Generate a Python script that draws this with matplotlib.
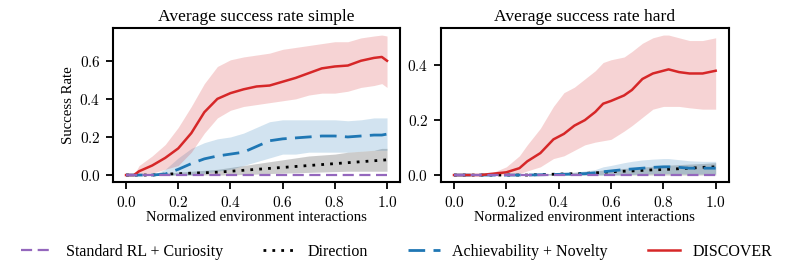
import matplotlib
matplotlib.use("Agg")
import matplotlib.pyplot as plt
import numpy as np

plt.rcParams['font.family'] = ['Liberation Serif', 'DejaVu Serif']
plt.rcParams['mathtext.fontset'] = 'cm'

# ---------------- data ----------------
labels = ["Standard RL + Curiosity", "Direction", "Achievability + Novelty", "DISCOVER"]
colors = ["#9467bd", "black", "#1f77b4", "#d62728"]
titles = ["Average success rate simple", "Average success rate hard"]
x_ticks = [0.0, 0.2, 0.4, 0.6, 0.8, 1.0]
x_ticklabels = ["0.0", "0.2", "0.4", "0.6", "0.8", "1.0"]
y_ticks_simple = [0.0, 0.2, 0.4, 0.6]
y_ticklabels_simple = ["0.0", "0.2", "0.4", "0.6"]
y_ticks_hard = [0.0, 0.2, 0.4]
y_ticklabels_hard = ["0.0", "0.2", "0.4"]

# Simple task
s_x = [0.0, 0.03, 0.05, 0.1, 0.15, 0.2, 0.25, 0.3, 0.35, 0.4, 0.45, 0.5, 0.55, 0.6,
       0.65, 0.7, 0.75, 0.8, 0.85, 0.9, 0.95, 0.98, 1.0]
s_discover = [0.0, 0.0, 0.02, 0.05, 0.09, 0.14, 0.22, 0.33, 0.40, 0.43, 0.45, 0.465, 0.47, 0.49,
              0.51, 0.535, 0.56, 0.57, 0.575, 0.60, 0.615, 0.62, 0.60]
s_discover_lo = [0.0, 0.0, 0.0, 0.01, 0.03, 0.05, 0.12, 0.22, 0.30, 0.34, 0.36, 0.37, 0.38, 0.39,
                 0.40, 0.42, 0.43, 0.43, 0.44, 0.46, 0.47, 0.48, 0.46]
s_discover_hi = [0.0, 0.0, 0.05, 0.10, 0.16, 0.25, 0.36, 0.48, 0.57, 0.605, 0.62, 0.63, 0.64, 0.66,
                 0.67, 0.68, 0.69, 0.70, 0.70, 0.72, 0.73, 0.735, 0.73]

s_achv = [0.0, 0.0, 0.0, 0.0, 0.005, 0.03, 0.06, 0.085, 0.10, 0.11, 0.12, 0.15, 0.18, 0.19,
          0.195, 0.20, 0.205, 0.205, 0.20, 0.205, 0.21, 0.21, 0.215]
s_achv_lo = [0.0, 0.0, 0.0, 0.0, 0.0, 0.0, 0.0, 0.01, 0.02, 0.03, 0.05, 0.07, 0.09, 0.11,
             0.11, 0.12, 0.12, 0.12, 0.12, 0.125, 0.13, 0.13, 0.13]
s_achv_hi = [0.0, 0.0, 0.0, 0.0, 0.03, 0.09, 0.14, 0.17, 0.19, 0.20, 0.22, 0.25, 0.28, 0.29,
             0.29, 0.29, 0.29, 0.29, 0.285, 0.29, 0.30, 0.30, 0.30]

s_dir = [0.0, 0.0, 0.0, 0.0, 0.005, 0.007, 0.01, 0.012, 0.015, 0.02, 0.025, 0.03, 0.035, 0.04,
         0.045, 0.05, 0.055, 0.06, 0.065, 0.07, 0.075, 0.078, 0.08]
s_dir_lo = [0.0, 0.0, 0.0, 0.0, 0.0, 0.0, 0.0, 0.0, 0.0, 0.0, 0.003, 0.005, 0.008, 0.01,
            0.012, 0.014, 0.016, 0.018, 0.02, 0.02, 0.02, 0.02, 0.02]
s_dir_hi = [0.0, 0.0, 0.0, 0.0, 0.01, 0.015, 0.02, 0.025, 0.03, 0.04, 0.05, 0.06, 0.07, 0.08,
            0.09, 0.10, 0.105, 0.11, 0.12, 0.125, 0.13, 0.14, 0.14]

s_curio = [0.0] * len(s_x)

# Hard task
h_x = [0.0, 0.1, 0.15, 0.2, 0.25, 0.28, 0.33, 0.38, 0.42, 0.46, 0.5, 0.54, 0.57, 0.6,
       0.65, 0.68, 0.72, 0.76, 0.8, 0.82, 0.86, 0.9, 0.95, 1.0]
h_discover = [0.0, 0.0, 0.005, 0.01, 0.025, 0.05, 0.08, 0.13, 0.15, 0.18, 0.20, 0.23, 0.26, 0.27,
              0.29, 0.31, 0.35, 0.37, 0.38, 0.385, 0.375, 0.37, 0.37, 0.38]
h_discover_lo = [0.0, 0.0, 0.0, 0.0, 0.005, 0.015, 0.03, 0.06, 0.07, 0.09, 0.11, 0.12, 0.125, 0.13,
                 0.16, 0.18, 0.21, 0.24, 0.25, 0.25, 0.25, 0.245, 0.24, 0.24]
h_discover_hi = [0.0, 0.0, 0.01, 0.03, 0.07, 0.11, 0.17, 0.25, 0.30, 0.32, 0.35, 0.38, 0.41, 0.42,
                 0.43, 0.45, 0.48, 0.50, 0.51, 0.51, 0.50, 0.49, 0.49, 0.50]

h_achv = [0.0, 0.0, 0.0, 0.0, 0.0, 0.0, 0.001, 0.002, 0.003, 0.004, 0.005, 0.008, 0.012, 0.015,
          0.02, 0.022, 0.025, 0.028, 0.03, 0.03, 0.028, 0.025, 0.025, 0.025]
h_achv_lo = [0.0, 0.0, 0.0, 0.0, 0.0, 0.0, 0.0, 0.0, 0.0, 0.0, 0.0, 0.0, 0.0, 0.0,
             0.0, 0.002, 0.004, 0.005, 0.006, 0.006, 0.005, 0.004, 0.004, 0.004]
h_achv_hi = [0.0, 0.0, 0.0, 0.0, 0.0, 0.0, 0.003, 0.006, 0.008, 0.01, 0.015, 0.02, 0.03, 0.035,
             0.045, 0.05, 0.055, 0.058, 0.06, 0.06, 0.056, 0.052, 0.05, 0.05]

h_dir = [0.0, 0.0, 0.0, 0.0, 0.0, 0.0, 0.002, 0.003, 0.004, 0.005, 0.006, 0.008, 0.01, 0.012,
         0.014, 0.015, 0.017, 0.019, 0.02, 0.021, 0.023, 0.025, 0.028, 0.03]
h_dir_lo = [0.0] * len(h_x)
h_dir_hi = [0.0, 0.0, 0.0, 0.0, 0.0, 0.002, 0.004, 0.006, 0.008, 0.01, 0.012, 0.015, 0.018, 0.02,
            0.024, 0.026, 0.029, 0.032, 0.035, 0.036, 0.038, 0.04, 0.042, 0.045]

h_curio = [0.0] * len(h_x)

# ---------------- plot ----------------
fig = plt.figure(figsize=(7.93, 2.75), dpi=100)
ax1 = fig.add_axes([0.1425, 0.338, 0.362, 0.56])
ax2 = fig.add_axes([0.556, 0.338, 0.363, 0.56])

styles = [dict(ls=(0, (5, 2.5)), lw=1.6),
          dict(ls=(0, (1, 2.2)), lw=2.0),
          dict(ls=(0, (6, 3)), lw=2.0),
          dict(ls='-', lw=1.8)]

def draw(ax, x, series, bands):
    for i, (y, band) in enumerate(zip(series, bands)):
        if band is not None:
            ax.fill_between(x, band[0], band[1], color=colors[i] if colors[i] != "black" else "0.35",
                            alpha=0.2 if colors[i] != "black" else 0.3, lw=0)
    handles = []
    for i, y in enumerate(series):
        h, = ax.plot(x, y, color=colors[i], label=labels[i], zorder=3 + (i == 0), **styles[i])
        handles.append(h)
    return handles

handles = draw(ax1, s_x, [s_curio, s_dir, s_achv, s_discover],
               [None, (s_dir_lo, s_dir_hi), (s_achv_lo, s_achv_hi), (s_discover_lo, s_discover_hi)])
draw(ax2, h_x, [h_curio, h_dir, h_achv, h_discover],
     [None, (h_dir_lo, h_dir_hi), (h_achv_lo, h_achv_hi), (h_discover_lo, h_discover_hi)])

def m(lbls):
    return ["$" + s + "$" for s in lbls]

for ax, t in zip([ax1, ax2], titles):
    ax.set_title(t, fontsize=12.6, pad=5)
    ax.set_xlabel("Normalized environment interactions", fontsize=10.6, labelpad=1)
    ax.set_xticks(x_ticks)
    ax.set_xticklabels(m(x_ticklabels))
    ax.tick_params(labelsize=11, length=5, width=1.3, direction='out', pad=4)
    for sp in ax.spines.values():
        sp.set_linewidth(1.5)
    ax.margins(x=0.05, y=0.05)

ax1.set_yticks(y_ticks_simple)
ax1.set_yticklabels(m(y_ticklabels_simple))
ax2.set_yticks(y_ticks_hard)
ax2.set_yticklabels(m(y_ticklabels_hard))
ax1.set_ylabel("Success Rate", fontsize=10.6, labelpad=3)

fig.legend(handles=handles, labels=labels, loc='center', bbox_to_anchor=(0.5, 0.085), ncol=4,
           frameon=False, prop={'size': 11.5},
           handlelength=2.05, handletextpad=0.75, columnspacing=2.5)

fig.savefig("out.png", dpi=100)
